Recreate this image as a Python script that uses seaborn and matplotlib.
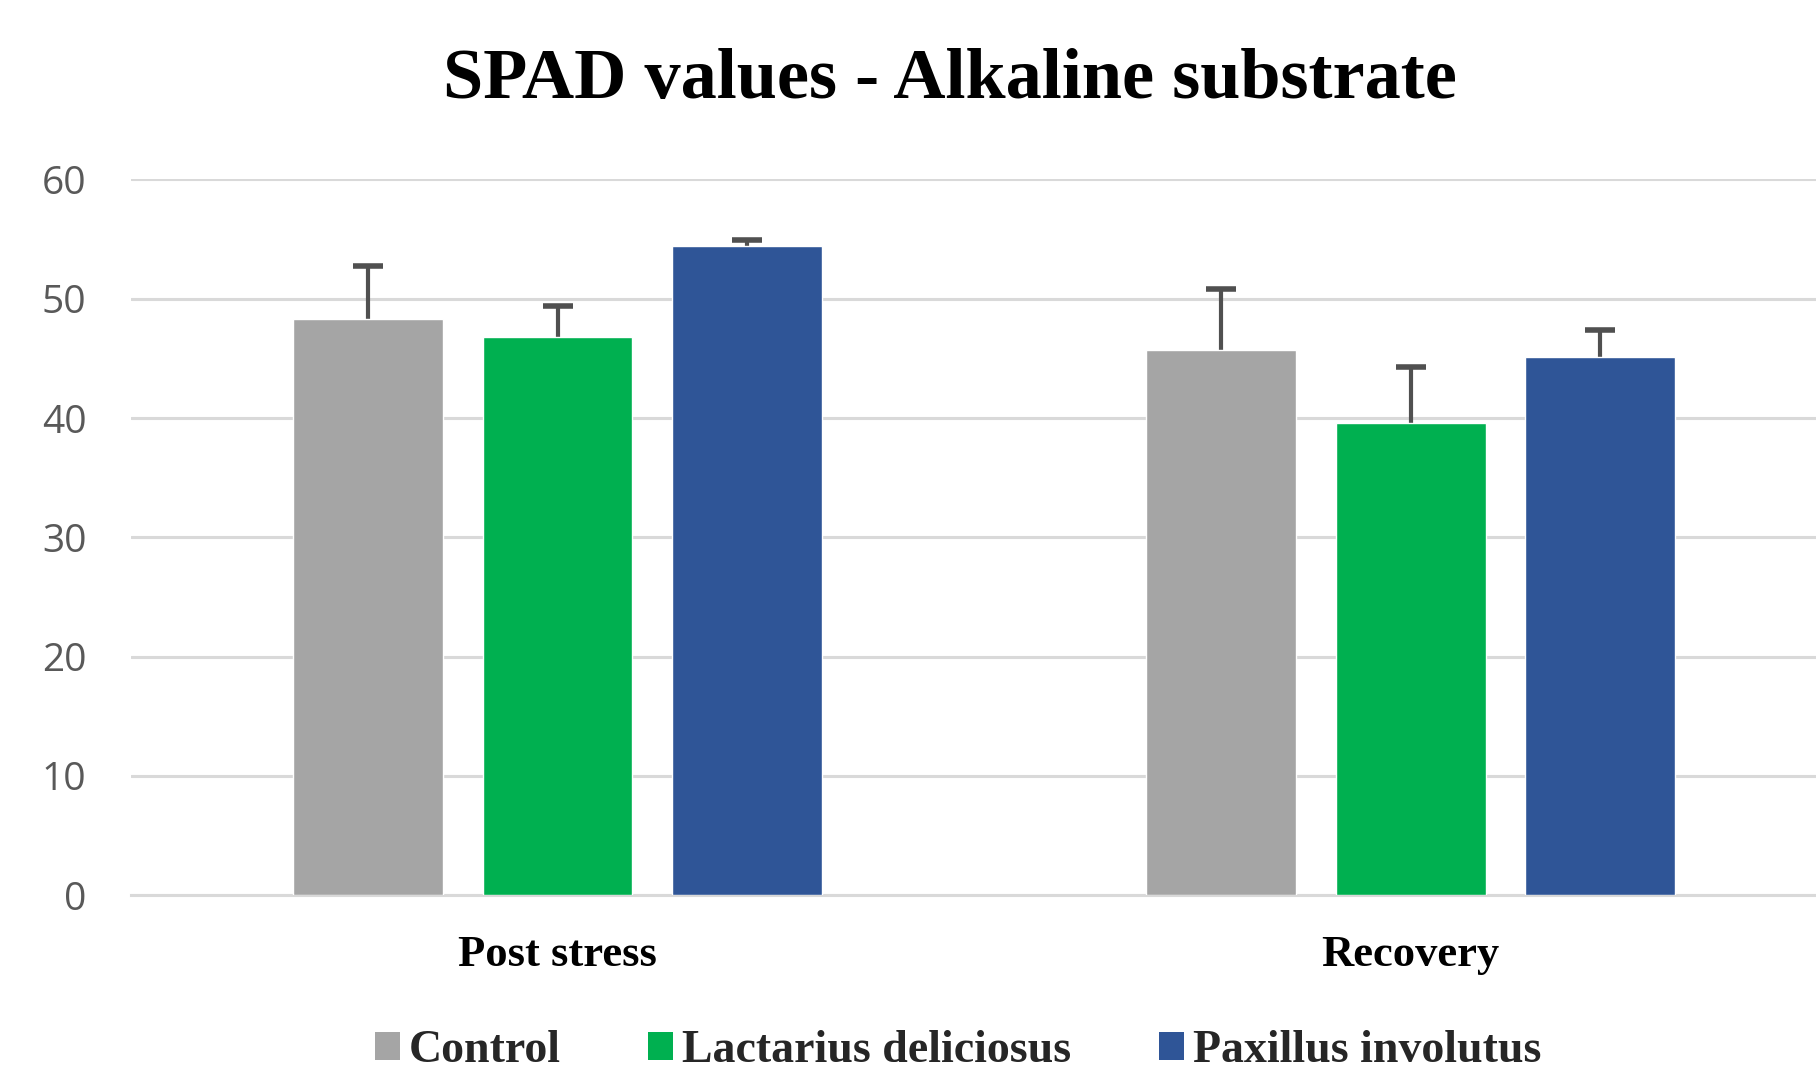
import numpy as np
import pandas as pd
import matplotlib
matplotlib.use("Agg")
import matplotlib.pyplot as plt
import seaborn as sns
from matplotlib.patches import Patch

# ---- data ----
stages = ["Post stress", "Recovery"]
treatments = ["Control", "Lactarius deliciosus", "Paxillus involutus"]
control_vals = [48.3, 45.7]
lactarius_vals = [46.8, 39.6]
paxillus_vals = [54.4, 45.1]
control_err = [4.45, 5.15]
lactarius_err = [2.6, 4.7]
paxillus_err = [0.5, 2.3]
colors = ["#A5A5A5", "#00B050", "#2F5597"]
yticks = [0, 10, 20, 30, 40, 50, 60]

df = pd.DataFrame({
    "stage": stages * 3,
    "treatment": [t for t in treatments for _ in stages],
    "value": control_vals + lactarius_vals + paxillus_vals,
    "err": control_err + lactarius_err + paxillus_err,
})

sns.set_theme(style="white")
plt.rcParams['font.family'] = ['DejaVu Sans']

fig = plt.figure(figsize=(18.16, 10.71), dpi=100)
ax = fig.add_axes([0.0721, 0.1643, 1 - 0.0721, 0.6681])

sns.barplot(data=df, x="stage", y="value", hue="treatment", order=stages,
            hue_order=treatments, palette=colors, width=0.667, gap=0.21,
            errorbar=None, saturation=1, legend=False, ax=ax, zorder=3)

# upper-only error bars at bar positions
for i, t in enumerate(treatments):
    cont = ax.containers[i]
    sub = df[df.treatment == t].set_index("stage").loc[stages]
    xs = [p.get_x() + p.get_width() / 2 for p in cont.patches]
    ys = sub["value"].values
    es = sub["err"].values
    eb = ax.errorbar(xs, ys, yerr=[np.zeros_like(es), es], fmt="none",
                     ecolor="#505050", elinewidth=3, capsize=11, capthick=4,
                     zorder=2.5)
    caps = eb[1]
    if len(caps) > 0:
        caps[0].set_visible(False)

ax.set_ylim(0, 60)
ax.set_xlim(-0.5, 1.475)
ax.set_yticks(yticks)
ax.set_yticklabels([str(v) for v in yticks], fontsize=28, color="#595959",
                   family="Open Sans")
ax.tick_params(axis="y", length=0, pad=32)
ax.tick_params(axis="x", length=0, pad=29)
ax.set_xticks(range(len(stages)))
ax.set_xticklabels(stages, fontsize=32, fontweight="bold", family="Liberation Serif",
                   color="black")
ax.set_xlabel("")
ax.set_ylabel("")
ax.yaxis.grid(True, color="#D9D9D9", linewidth=2.2, zorder=0)
ax.set_axisbelow(True)
for s in ["top", "right", "left"]:
    ax.spines[s].set_visible(False)
ax.spines["bottom"].set_color("#D9D9D9")
ax.spines["bottom"].set_linewidth(2.2)

fig.text(0.523, 0.925, "SPAD values - Alkaline substrate", ha="center", va="center",
         fontsize=52, fontweight="bold", family="Liberation Serif", color="black")

handles = [Patch(facecolor=c, edgecolor="none") for c in colors]
fig.legend(handles, treatments, loc="center", bbox_to_anchor=(0.5275, 0.0187),
           ncol=3, frameon=False, handlelength=0.55, handleheight=0.55,
           handletextpad=0.2, columnspacing=1.9,
           prop={"family": "Liberation Serif", "weight": "bold", "size": 33})

fig.savefig("out.png", dpi=100, facecolor="white")
